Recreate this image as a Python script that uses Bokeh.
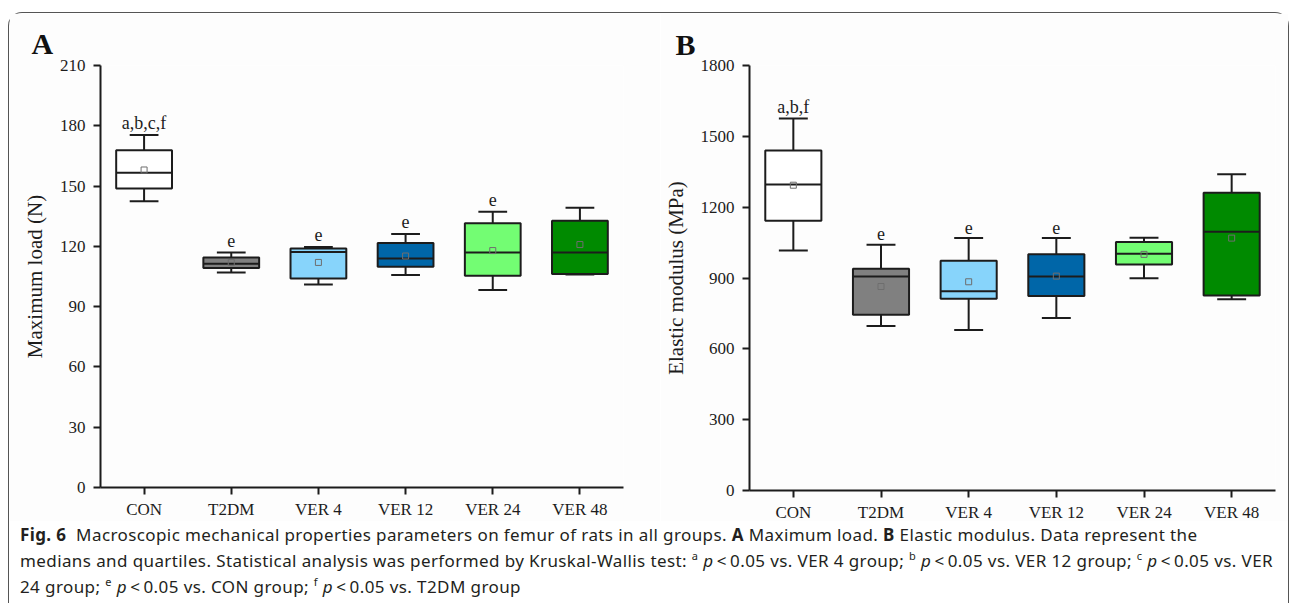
from bokeh.plotting import figure
from bokeh.models import Range1d, FixedTicker, Div, ColumnDataSource
from bokeh.layouts import row, column
from bokeh.embed import file_html
from bokeh.resources import INLINE

groups = ["CON", "T2DM", "VER 4", "VER 12", "VER 24", "VER 48"]
colors = ["#ffffff", "#808080", "#87d4fb", "#0066a8", "#73fd73", "#008a00"]

# Panel A: maximum load (N)
load_low = [142.5, 107.0, 101.0, 105.7, 98.3, 106.0]
load_q1 = [148.8, 109.2, 104.0, 109.9, 105.4, 106.2]
load_med = [156.6, 111.4, 117.2, 113.9, 117.0, 117.0]
load_q3 = [167.8, 114.4, 118.9, 121.7, 131.5, 132.7]
load_high = [175.4, 117.0, 119.7, 126.2, 137.2, 139.2]
load_mean = [158.0, 112.0, 112.0, 115.2, 117.9, 120.9]
load_sig = ["a,b,c,f", "e", "e", "e", "e", ""]
load_ticks = [0, 30, 60, 90, 120, 150, 180, 210]

# Panel B: elastic modulus (MPa)
mod_low = [1016, 697, 680, 731, 899, 810]
mod_q1 = [1142, 744, 812, 824, 957, 826]
mod_med = [1296, 906, 844, 906, 1003, 1096]
mod_q3 = [1440, 939, 973, 1001, 1052, 1261]
mod_high = [1576, 1041, 1069, 1069, 1070, 1339]
mod_mean = [1293, 864, 884, 908, 1000, 1069]
mod_sig = ["a,b,f", "e", "e", "e", "", ""]
mod_ticks = [0, 300, 600, 900, 1200, 1500, 1800]

SERIF = "Liberation Serif"
INK = "#1c1c1c"


def panel(low, q1, med, q3, high, mean, sig, ticks, ylabel, letter, letter_offset, letter_standoff,
          min_left, frame_w, min_right, min_top, frame_h, min_bottom, sig_off):
    idx = list(range(len(groups)))
    src = ColumnDataSource(dict(
        x=idx, low=low, q1=q1, med=med, q3=q3, high=high, mean=mean, sig=sig, color=colors,
        xl=[i - 0.32 for i in idx], xr=[i + 0.32 for i in idx],
        cl=[i - 0.165 for i in idx], cr=[i + 0.165 for i in idx],
    ))
    p = figure(frame_width=frame_w, frame_height=frame_h,
               min_border_left=min_left, min_border_right=min_right,
               min_border_top=min_top, min_border_bottom=min_bottom,
               x_range=Range1d(-0.5, 5.5), y_range=Range1d(0, ticks[-1]),
               output_backend="svg", toolbar_location=None, margin=0)
    p.background_fill_color = "#fdfdfd"
    p.border_fill_color = "#fdfdfd"
    p.outline_line_color = None
    p.grid.visible = False

    p.title.text = letter
    p.title.text_font = SERIF
    p.title.text_font_size = "30px"
    p.title.text_font_style = "bold"
    p.title.text_color = "#111111"
    p.title.text_line_height = 0.8
    p.title.align = "left"
    p.title.offset = letter_offset
    p.title.standoff = letter_standoff

    # whiskers
    p.segment(x0="x", x1="x", y0="q3", y1="high", source=src, line_color=INK, line_width=2)
    p.segment(x0="x", x1="x", y0="low", y1="q1", source=src, line_color=INK, line_width=2)
    p.segment(x0="cl", x1="cr", y0="high", y1="high", source=src, line_color=INK, line_width=2)
    p.segment(x0="cl", x1="cr", y0="low", y1="low", source=src, line_color=INK, line_width=2)
    # boxes
    p.quad(left="xl", right="xr", bottom="q1", top="q3", source=src,
           fill_color="color", line_color=INK, line_width=2)
    # medians
    p.segment(x0="xl", x1="xr", y0="med", y1="med", source=src, line_color=INK, line_width=2)
    # means
    p.scatter(x="x", y="mean", source=src, marker="square", size=6,
              fill_alpha=0, line_color="#6e6e6e", line_width=1)
    # significance letters
    p.text(x="x", y="high", text="sig", source=src, y_offset=-sig_off,
           text_font={"value": SERIF}, text_font_size="18px", text_color=INK,
           text_align="center", text_baseline="middle")

    p.xaxis.ticker = FixedTicker(ticks=idx)
    p.xaxis.major_label_overrides = {i: g for i, g in zip(idx, groups)}
    p.yaxis.ticker = FixedTicker(ticks=ticks)
    for ax in (p.xaxis[0], p.yaxis[0]):
        ax.axis_line_color = INK
        ax.axis_line_width = 2
        ax.major_tick_line_color = INK
        ax.major_tick_line_width = 2
        ax.major_tick_out = 7
        ax.major_tick_in = 0
        ax.minor_tick_line_color = None
        ax.major_label_text_font = SERIF
        ax.major_label_text_font_size = "17px"
        ax.major_label_text_color = INK
    p.yaxis.major_label_standoff = 8
    p.xaxis.major_label_standoff = 5
    p.yaxis.axis_label = ylabel
    p.yaxis.axis_label_text_font = SERIF
    p.yaxis.axis_label_text_font_size = "21px"
    p.yaxis.axis_label_text_font_style = "normal"
    p.yaxis.axis_label_text_color = INK
    p.yaxis.axis_label_standoff = 10
    return p


pa = panel(load_low, load_q1, load_med, load_q3, load_high, load_mean, load_sig, load_ticks,
           "Maximum load (N)", "A", -69, 12,
           91, 523, 37, 52, 422, 34, 12)
pb = panel(mod_low, mod_q1, mod_med, mod_q3, mod_high, mod_mean, mod_sig, mod_ticks,
           "Elastic modulus (MPa)", "B", -74, 10,
           89, 526, 13, 49, 425, 34, 11)

SUP = '<sup style="font-size:11px; line-height:0;">'
P = '<i>p</i>&thinsp;&lt;&thinsp;0.05'
caption_html = (
    '<div style="font-family:\'Noto Sans\'; font-size:17px; letter-spacing:0.4px; line-height:26px;'
    ' color:#231f20; white-space:nowrap; padding:0 0 0 11px; margin-top:1px;">'
    '<b>Fig. 6</b>&nbsp; Macroscopic mechanical properties parameters on femur of rats in all groups. '
    '<b>A</b> Maximum load. <b>B</b> Elastic modulus. Data represent the<br>'
    'medians and quartiles. Statistical analysis was performed by Kruskal-Wallis test: '
    + SUP + 'a</sup> ' + P + ' vs. VER 4 group; ' + SUP + 'b</sup> ' + P + ' vs. VER 12 group; '
    + SUP + 'c</sup> ' + P + ' vs. VER<br>'
    '24 group; ' + SUP + 'e</sup> ' + P + ' vs. CON group; ' + SUP + 'f</sup> ' + P + ' vs. T2DM group'
    '</div>'
)
caption = Div(text=caption_html, width=1279, height=82, margin=0,
              styles={"overflow": "hidden"})

layout = column(row(pa, pb, margin=0), caption, margin=(12, 3, 0, 8),
                styles={"border-top": "1.5px solid #555", "border-left": "1.5px solid #555",
                        "border-right": "1.5px solid #555",
                        "border-top-left-radius": "14px", "border-top-right-radius": "14px"})

open("out.html", "w").write(file_html(layout, INLINE))
